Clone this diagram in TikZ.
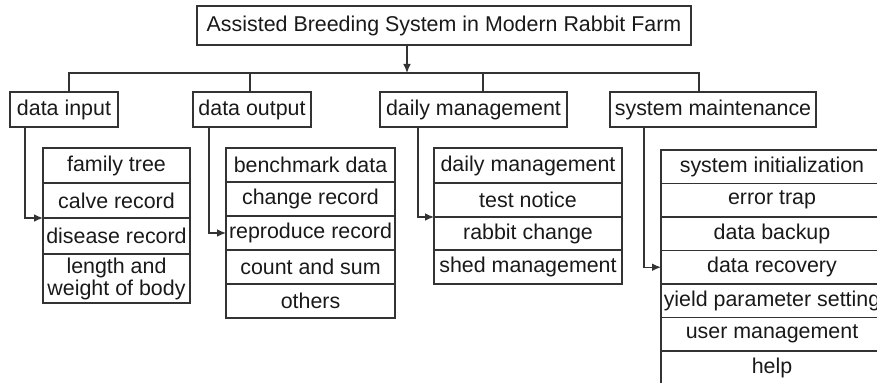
\documentclass[tikz,border=0pt]{standalone}
\usepackage{fontspec}
\setmainfont{Liberation Sans}
\usetikzlibrary{arrows.meta,positioning}

\tikzset{
	box/.style={draw=black!80, line width=0.6pt, outer sep=0pt, inner sep=0pt, text=black!90,
		font=\fontsize{10.7}{11}\selectfont, align=center},
	head/.style={box, anchor=north west, minimum height=17.5pt},
	cell/.style={box, anchor=north west},
	link/.style={draw=black!80, line width=0.6pt},
	arr/.style={link, -{Latex[length=4.5pt, width=3.8pt]}}
}

\begin{document}
\begin{tikzpicture}[x=0.5pt, y=-0.5pt]
				\clip (0,0) rectangle (877,383);

				% Title
				\node[box, anchor=north west, minimum width=247pt, minimum height=19.5pt] (title) at (197,6)
					{Assisted Breeding System in Modern Rabbit Farm};
				\coordinate (bus) at (407,73);

				% Modules
				\node[head, minimum width=54pt] (din) at (10,92) {data input};
				\node[head, minimum width=59pt] (dout) at (193,92) {data output};
				\node[head, minimum width=93.5pt] (dm) at (380,92) {daily management};
				\node[head, minimum width=103pt] (sm) at (610,92) {system maintenance};

				% Data input list
				\node[cell, minimum width=73.5pt, minimum height=17.5pt] (di1) at (43,148) {family tree};
				\node[cell, minimum width=73.5pt, minimum height=17.5pt, below=0pt of di1] (di2) {calve record};
				\node[cell, minimum width=73.5pt, minimum height=18pt, below=0pt of di2] (di3) {disease record};
				\node[cell, minimum width=73.5pt, minimum height=24.5pt, below=0pt of di3] (di4) {length and\\weight of body};

				% Data output list
				\node[cell, minimum width=84.5pt, minimum height=17pt] (do1) at (226,148) {benchmark data};
				\node[cell, minimum width=84.5pt, minimum height=17pt, below=0pt of do1] (do2) {change record};
				\node[cell, minimum width=84.5pt, minimum height=17pt, below=0pt of do2] (do3) {reproduce record};
				\node[cell, minimum width=84.5pt, minimum height=17pt, below=0pt of do3] (do4) {count and sum};
				\node[cell, minimum width=84.5pt, minimum height=17pt, below=0pt of do4] (do5) {others};

				% Daily management list
				\node[cell, minimum width=94pt, minimum height=17.5pt] (dm1) at (434,148) {daily management};
				\node[cell, minimum width=94pt, minimum height=17pt, below=0pt of dm1] (dm2) {test notice};
				\node[cell, minimum width=94pt, minimum height=16.5pt, below=0pt of dm2] (dm3) {rabbit change};
				\node[cell, minimum width=94pt, minimum height=17pt, below=0pt of dm3] (dm4) {shed management};

				% System maintenance list
				\node[cell, minimum width=111pt, minimum height=16.75pt] (sm1) at (661,150) {system initialization};
				\node[cell, minimum width=111pt, minimum height=16.75pt, below=0pt of sm1] (sm2) {error trap};
				\node[cell, minimum width=111pt, minimum height=16.75pt, below=0pt of sm2] (sm3) {data backup};
				\node[cell, minimum width=111pt, minimum height=16.75pt, below=0pt of sm3] (sm4) {data recovery};
				\node[cell, minimum width=111pt, minimum height=16.75pt, below=0pt of sm4] (sm5) {yield parameter setting};
				\node[cell, minimum width=111pt, minimum height=16.75pt, below=0pt of sm5] (sm6) {user management};
				\node[cell, minimum width=111pt, minimum height=16.75pt, below=0pt of sm6] (sm7) {help};

				% Tree lines
				\draw[arr] (title.south -| bus) -- (bus);
				\draw[link] ([xshift=2.5pt]din.north) |- (bus) -| ([xshift=-7pt]sm.north);
				\draw[link] ([xshift=-1pt]dout.north) -- ([xshift=-1pt]dout.north |- bus);
				\draw[link] ([xshift=4.75pt]dm.north) -- ([xshift=4.75pt]dm.north |- bus);

				% Module to list arrows
				\draw[arr] ([xshift=7.5pt]din.south west) |- (di2.south west);
				\draw[arr] ([xshift=8pt]dout.south west) |- (do3.west);
				\draw[arr] ([xshift=19pt]dm.south west) |- (dm2.south west);
				\draw[arr] ([xshift=17pt]sm.south west) |- (sm4.west);
			\end{tikzpicture}
\end{document}
